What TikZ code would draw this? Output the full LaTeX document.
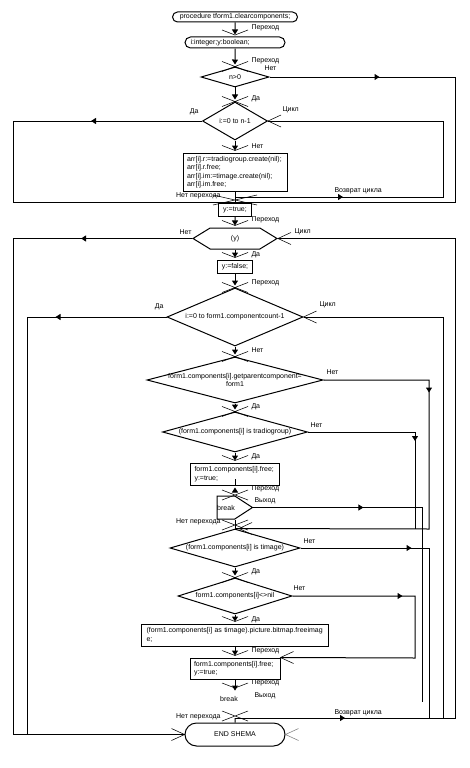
\documentclass[tikz,border=0pt]{standalone}
\usepackage{fontspec}
\setmainfont{Liberation Sans}
\usetikzlibrary{shapes.geometric, shapes.misc, shapes.symbols, arrows.meta, decorations.markings}

\begin{document}
\begin{tikzpicture}[
    x=1pt, y=-1pt,
    font=\fontsize{7}{8.5}\selectfont,
    line width=1pt,
    term/.style={draw, rounded rectangle, inner sep=0pt},
    proc/.style={draw, rectangle, inner sep=0pt, align=left},
    cond/.style={draw, diamond, inner sep=-3pt, align=center},
    flow/.style={-{Triangle[length=5pt,width=6pt]}, shorten >=2pt},
    arrowat/.style={postaction={decorate}, decoration={markings,
        mark=at position #1 with {\arrow{Triangle[length=5pt,width=6pt]}}}},
    thinmark/.style={line width=0.55pt},
    lbl/.style={inner sep=0pt, text height=5pt, text depth=1.5pt},
    pics/vee/.style={code={\draw[thinmark] (-13,-5) -- (0,0) -- (13,-5);}},
    pics/cross/.style={code={\draw[thinmark] (-#1,-5) -- (#1,5) (-#1,5) -- (#1,-5);}},
    pics/inleft/.style={code={\draw[thinmark] (13,-6) -- (0,0) -- (13,6);}},
    pics/inright/.style={code={\draw[thinmark] (-13,-6) -- (0,0) -- (-13,6);}}
]
\useasboundingbox (0,0) rectangle (469,768);

% Column positions
\def\colM{235}   % main axis
\def\colA{13}    % outer left
\def\colB{27}    % inner left
\def\colC{415}   % tradiogroup / nil
\def\colD{422}   % break exit
\def\colE{429}   % parent / timage
\def\colF{443}   % inner loop return
\def\colG{455}   % outer right

% Blocks (top to bottom)
\node[term, minimum width=125pt, minimum height=10pt] (start) at (\colM,17) {procedure tform1.clearcomponents;};
\node[term, minimum width=100pt, minimum height=11pt, text width=89pt, align=left] (decl) at (\colM,42.5) {i:integer;y:boolean;};
\node[cond, aspect=3.4, minimum width=68pt, minimum height=20pt] (d1) at (\colM,77) {n>0};
\node[cond, aspect=1.7, minimum width=65pt, minimum height=38pt] (d2) at (\colM,121) {i:=0 to n-1};
\node[proc, minimum width=104pt, minimum height=38pt, text width=96pt] (body) at (\colM,172) {arr[i].r:=tradiogroup.create(nil);\\arr[i].r.free;\\arr[i].im:=timage.create(nil);\\arr[i].im.free;};
\coordinate (jA) at (\colM,197);
\coordinate (jB) at (\colM,202);
\node[proc, minimum width=33pt, minimum height=13pt] (ytrue) at (\colM,209.5) {y:=true;};
\node[draw, signal, signal to=east and west, signal pointer angle=63, inner sep=0pt, minimum width=84pt, minimum height=21pt] (hex) at (\colM,238.5) {(y)};
\node[proc, minimum width=35pt, minimum height=13pt] (yfalse) at (\colM,266.5) {y:=false;};
\node[cond, aspect=2.34, minimum width=136pt, minimum height=58pt] (d3) at (\colM,317) {i:=0 to form1.componentcount-1};
\node[cond, aspect=3.83, minimum width=176pt, minimum height=46pt] (d4) at (\colM,380) {form1.components[i].getparentcomponent=\\form1};
\node[cond, aspect=3.63, minimum width=145pt, minimum height=40pt] (d5) at (\colM,432) {(form1.components[i] is tradiogroup)};
\node[proc, minimum width=89pt, minimum height=22pt, text width=81pt] (free1) at (\colM,474) {form1.components[i].free;\\y:=true;};
\node[draw, signal, signal to=east, signal pointer angle=66, inner sep=0pt, minimum width=35pt, minimum height=23pt] (brk1) at (226,507.5) {break};
\node[cond, aspect=3.42, minimum width=130pt, minimum height=38pt] (d6) at (\colM,548) {(form1.components[i] is timage)};
\node[cond, aspect=3.17, minimum width=114pt, minimum height=36pt] (d7) at (\colM,596) {form1.components[i]<>nil};
\node[proc, minimum width=187pt, minimum height=22pt, text width=177pt] (fimg) at (\colM,635) {(form1.components[i] as timage).picture.bitmap.freeimag\\e;};
\node[proc, minimum width=90pt, minimum height=21pt, text width=82pt] (free2) at (\colM,668.5) {form1.components[i].free;\\y:=true;};
\node (brk2) at (229,699) {break};
\coordinate (jC) at (\colM,718);
\node[term, minimum width=100pt, minimum height=23pt] (fin) at (\colM,734.5) {END SHEMA};

% Free ends on the right
\coordinate (m5) at (\colC,529);
\coordinate (x1) at (\colD,702);
\coordinate (r6) at (\colE,718);
\coordinate (r3) at (\colF,718);

% Main axis
\draw[flow] (start) -- (decl);
\draw[flow] (decl) -- (d1);
\draw[flow] (d1) -- (d2);
\draw[flow] (d2) -- (body);
\draw (body) -- (ytrue);
\draw[flow] (ytrue) -- (hex);
\draw[flow] (hex) -- (yfalse);
\draw[flow] (yfalse) -- (d3);
\draw[flow] (d3) -- (d4);
\draw[flow] (d4) -- (d5);
\draw[flow] (d5) -- (free1);
\draw[flow] (free1.south) -- (free1.south -| d6.north |- brk1.north);
\draw (d6.north |- brk1.south) -- (d6.north);
\draw[flow] (d6) -- (d7);
\draw[flow] (d7) -- (fimg);
\draw[flow] (fimg) -- (free2);
\draw[flow] (free2.south) -- (free2.south |- brk2.north);
\draw (jC) -- (fin);

% Branches and loop returns
\draw[arrowat=110pt] (d1.east) -- (\colG,77) |- (jB);
\draw[arrowat=111pt] (d2.west) -- (\colA,121) |- (jB);
\draw[arrowat=108pt] (jA) -- (\colF,197) |- (d2.east);
\draw[arrowat=111pt] (hex.west) -- (\colA,238.5) |- (fin.west);
\draw[arrowat=111pt] (d3.west) -- (\colB,317) |- (fin.west);
\draw[arrowat=110pt] (jC) -- (\colG,718) |- (hex.east);
\draw (r3) |- (d3.east);
\draw[arrowat=118pt] (d4.east) -| (\colE,529) -- (d6.north);
\draw[arrowat=116pt] (d5.east) -| (m5);
\draw[arrowat=110pt] (brk1.east) -| (x1);
\draw[arrowat=111pt] (d6.east) -| (r6);
\draw[arrowat=110pt] (d7.east) -| (\colC,658) -- (free2.north east);

% Entry marks
\pic at (\colM,35) {vee};
\pic at (d1.north) {cross=13};
\pic at (d2.north) {cross=13};
\pic at ([yshift=2pt]body.north) {vee};
\pic at (\colM,200) {cross=22};
\pic at ([yshift=2pt]hex.north) {vee};
\pic at ([yshift=2pt]yfalse.north) {vee};
\pic at (d3.north) {cross=13};
\pic at (d4.north) {cross=13};
\pic at (d5.north) {cross=13};
\pic at ([yshift=2pt]free1.north) {vee};
\pic at (\colM,495) {cross=13};
\pic at (\colM,525) {cross=13};
\pic at (d7.north) {cross=13};
\pic at ([yshift=2pt]fimg.north) {vee};
\pic at ([yshift=2pt]free2.north) {vee};
\pic at (\colM,688) {vee};
\pic at (\colM,716) {cross=13};
\pic at (d2.east) {inleft};
\pic at (hex.east) {inleft};
\pic at (d3.east) {inleft};
\pic at ([xshift=4pt]d6.north) {inleft};
\pic at (free2.north east) {inleft};
\pic at (fin.west) {inright};
\pic[gray] at (fin.east) {inleft};

% Labels
\node[lbl, anchor=west] (t1) at (251,28) {Переход};
\node[lbl, anchor=west] (t2) at (251,60.5) {Переход};
\node[lbl, anchor=west] (t3) at (264,68.5) {Нет};
\node[lbl, anchor=west] (t4) at (251,99) {Да};
\node[lbl, anchor=east] (t5) at (199,112) {Да};
\node[lbl, anchor=west] (t6) at (282,110) {Цикл};
\node[lbl, anchor=west] (t7) at (251,147) {Нет};
\node[lbl, anchor=east] (t8) at (221,196) {Нет перехода};
\node[lbl, anchor=west] (t9) at (334,191) {Возврат цикла};
\node[lbl, anchor=west] (t10) at (251,220) {Переход};
\node[lbl, anchor=east] (t11) at (192,233) {Нет};
\node[lbl, anchor=west] (t12) at (294,232) {Цикл};
\node[lbl, anchor=west] (t13) at (251,255) {Да};
\node[lbl, anchor=west] (t14) at (251,283) {Переход};
\node[lbl, anchor=east] (t15) at (164,307) {Да};
\node[lbl, anchor=west] (t16) at (319,305) {Цикл};
\node[lbl, anchor=west] (t17) at (251,351) {Нет};
\node[lbl, anchor=west] (t18) at (326,373) {Нет};
\node[lbl, anchor=west] (t19) at (251,407) {Да};
\node[lbl, anchor=west] (t20) at (310,426) {Нет};
\node[lbl, anchor=west] (t21) at (251,457) {Да};
\node[lbl, anchor=west] (t22) at (251,489) {Переход};
\node[lbl, anchor=west] (t23) at (254,501) {Выход};
\node[lbl, anchor=east] (t24) at (221,522) {Нет перехода};
\node[lbl, anchor=west] (t25) at (303,542) {Нет};
\node[lbl, anchor=west] (t26) at (251,572) {Да};
\node[lbl, anchor=west] (t27) at (293,589) {Нет};
\node[lbl, anchor=west] (t28) at (251,620) {Да};
\node[lbl, anchor=west] (t29) at (251,651) {Переход};
\node[lbl, anchor=west] (t30) at (251,683) {Переход};
\node[lbl, anchor=west] (t31) at (254,696) {Выход};
\node[lbl, anchor=east] (t32) at (221,717) {Нет перехода};
\node[lbl, anchor=west] (t33) at (334,713) {Возврат цикла};

\end{tikzpicture}
\end{document}
